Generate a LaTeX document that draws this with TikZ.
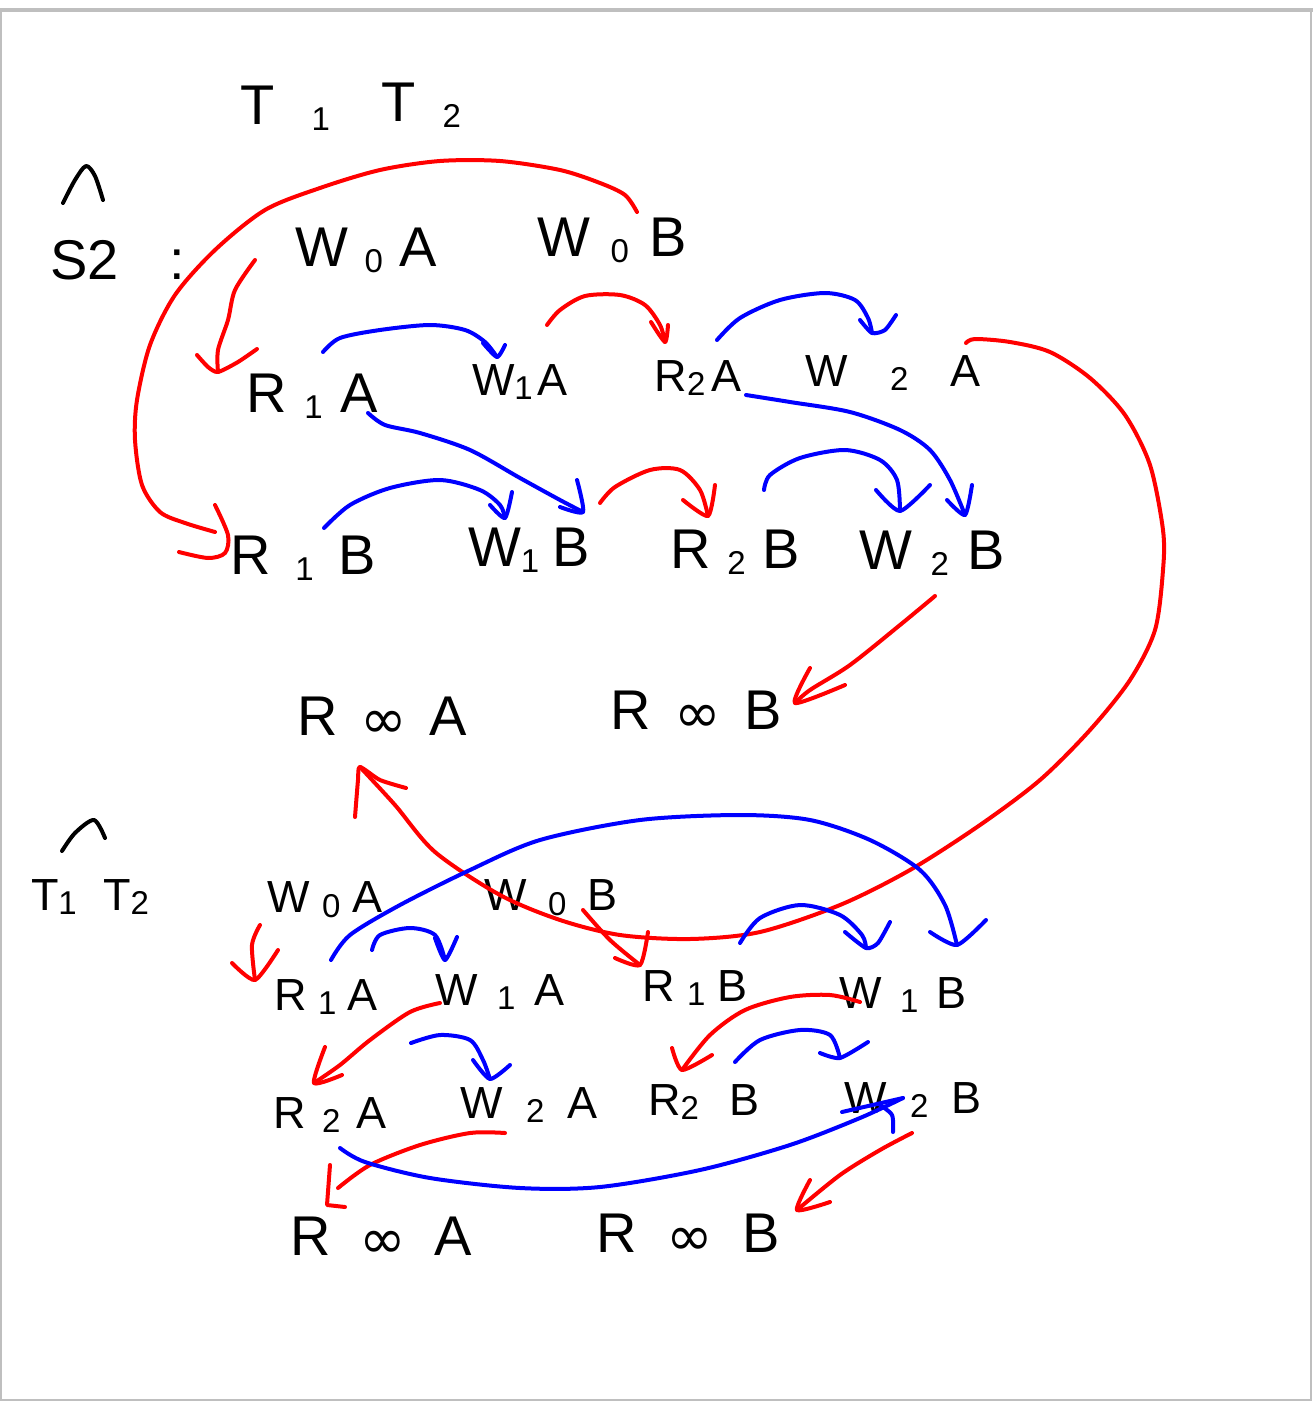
\documentclass[tikz,border=0pt]{standalone}
\usepackage{fontspec}
\setmainfont{Liberation Sans}
\newcommand\lowidx[1]{\raisebox{-0.2ex}{\fontsize{33}{33}\selectfont #1}}
\newfontfamily\symfont{DejaVu Sans}
\newcommand\infsign{\raisebox{-0.1ex}{\fontsize{56}{56}\selectfont\symfont ∞}}
\definecolor{inkred}{RGB}{255,0,0}
\definecolor{inkblue}{RGB}{0,0,255}
\tikzset{
  hand/.style={line width=4pt,line cap=round,line join=round},
  lbig/.style={inner sep=0,font=\fontsize{56}{56}\selectfont,text=black},
  lsmall/.style={inner sep=0,font=\fontsize{45}{45}\selectfont,text=black}
}
% name, colour, start, middle points, end, barb points before end, barb points after end
\newcommand\inkarrow[7]{%
  \coordinate (#1s) at #3;
  \coordinate (#1e) at #5;
  \draw[hand,#2] plot[smooth] coordinates {(#1s) #4 (#1e)};
  \draw[hand,#2] plot[smooth,tension=0.4] coordinates {#6 (#1e) #7};
}
\newcommand\wlabel[5]{\node[#1] (#2) at #3 {\makebox[#4pt][s]{#5}};}
\begin{document}
\begin{tikzpicture}[x=1pt,y=-1pt]
\useasboundingbox (0,0) rectangle (1313,1402);
\fill[white] (0,0) rectangle (1313,1402);
\draw[black!25,line width=2pt] (1,10) -- (1,1400) -- (1311,1400) -- (1311,10);
\draw[black!25,line width=4pt] (0,10) -- (1313,10);

% labels, top
\wlabel{lbig}{ta}{(285,108)}{90}{T\hfil\lowidx{1}}
\wlabel{lbig}{tb}{(421,105)}{80}{T\hfil\lowidx{2}}
\wlabel{lbig}{sa}{(118,260)}{135}{S2\hfil:}
\wlabel{lbig}{awa}{(366,250)}{142}{W\hfil\lowidx{0}\hfil A}
\wlabel{lbig}{awb}{(612,240)}{150}{W\hfil\lowidx{0}\hfil B}
\wlabel{lbig}{ara}{(312,396)}{132}{R\hfil\lowidx{1}\hfil A}
\wlabel{lsmall}{awc}{(520,382)}{96}{W\lowidx{1}\hfil A}
\wlabel{lsmall}{arb}{(698,378)}{87}{R\lowidx{2}\hfil A}
\wlabel{lsmall}{awd}{(893,373)}{176}{W\hfil\lowidx{2}\hfil A}
\wlabel{lbig}{arc}{(303,558)}{146}{R\hfil\lowidx{1}\hfil B}
\wlabel{lbig}{awe}{(529,550)}{122}{W\lowidx{1}\hfil B}
\wlabel{lbig}{ard}{(735,552)}{130}{R\hfil\lowidx{2}\hfil B}
\wlabel{lbig}{awf}{(932,553)}{145}{W\hfil\lowidx{2}\hfil B}
\wlabel{lbig}{ari}{(382,718)}{170}{R\hfil\infsign\hfil A}
\wlabel{lbig}{arj}{(696,712)}{172}{R\hfil\infsign\hfil B}

% labels, bottom
\wlabel{lsmall}{tt}{(90,897)}{118}{T\lowidx{1}\hfil T\lowidx{2}}
\wlabel{lsmall}{bwa}{(325,900)}{116}{W\hfil\lowidx{0}\hfil A}
\wlabel{lsmall}{bwb}{(551,898)}{133}{W\hfil\lowidx{0}\hfil B}
\wlabel{lsmall}{bra}{(326,997)}{103}{R\hfil\lowidx{1}\hfil A}
\wlabel{lsmall}{bwc}{(500,992)}{130}{W\hfil\lowidx{1}\hfil A}
\wlabel{lsmall}{brb}{(695,988)}{106}{R\hfil\lowidx{1}\hfil B}
\wlabel{lsmall}{bwd}{(903,995)}{127}{W\hfil\lowidx{1}\hfil B}
\wlabel{lsmall}{brc}{(330,1115)}{114}{R\hfil\lowidx{2}\hfil A}
\wlabel{lsmall}{bwe}{(529,1105)}{138}{W\hfil\lowidx{2}\hfil A}
\wlabel{lsmall}{brd}{(704,1102)}{112}{R\lowidx{2}\hfil B}
\wlabel{lsmall}{bwf}{(913,1100)}{137}{W\hfil\lowidx{2}\hfil B}
\wlabel{lbig}{bri}{(381,1238)}{182}{R\hfil\infsign\hfil A}
\wlabel{lbig}{brj}{(688,1235)}{183}{R\hfil\infsign\hfil B}

% hats
\coordinate (hatas) at (63,203);
\coordinate (hatae) at (103,200);
\draw[hand,black] plot[smooth] coordinates {(hatas) (75,180) (86,166) (95,176) (hatae)};
\coordinate (hatbs) at (62,851);
\coordinate (hatbe) at (105,838);
\draw[hand,black] plot[smooth] coordinates {(hatbs) (75,833) (94,820) (hatbe)};

% top connectors
\inkarrow{a}{inkred}{(637,212)}{(625,195) (600,183) (560,170) (500,161) (440,161) (380,170) (320,188) (265,210) (215,250) (175,295) (150,345) (137,400) (135,440) (142,485) (160,512) (185,523)}{(215,532)}{}{}
\coordinate (ab) at (215,505);
\coordinate (abe) at (179,552);
\draw[hand,inkred] plot[smooth,tension=0.5] coordinates {(ab) (228,535) (225,553) (208,558) (abe)};
\inkarrow{b}{inkred}{(255,260)}{(235,290) (228,320) (218,350)}{(218,372)}{(197,355) (208,367)}{(238,362) (257,349)}
\inkarrow{c}{inkblue}{(323,352)}{(340,338) (380,330) (430,325) (465,330) (485,342)}{(497,357)}{(483,343)}{(505,345)}
\inkarrow{d}{inkred}{(547,325)}{(560,310) (585,296) (620,295) (645,305) (660,325)}{(665,342)}{(651,322)}{(668,325)}
\inkarrow{e}{inkblue}{(717,340)}{(740,318) (780,300) (825,293) (855,300) (868,318)}{(872,333)}{(860,320)}{(885,330) (896,315)}
\inkarrow{f}{inkred}{(966,343)}{(975,339) (1010,342) (1050,352) (1090,378) (1125,415) (1150,465) (1163,530) (1163,570) (1155,630) (1130,680) (1090,730) (1040,780) (980,825) (910,870) (840,905) (760,932) (690,939) (620,935) (560,920) (500,895) (435,852) (395,805)}{(360,767)}{(355,817) (358,780)}{(380,780) (406,788)}
\inkarrow{g}{inkblue}{(368,413)}{(385,425) (420,433) (470,450) (520,478) (560,500)}{(583,512)}{(577,480)}{(560,507)}
\inkarrow{h}{inkblue}{(746,395)}{(790,402) (850,412) (900,430) (930,450) (950,480)}{(965,515)}{(972,485)}{(947,500)}
\inkarrow{i}{inkblue}{(324,528)}{(350,505) (390,488) (440,480) (480,490) (500,505)}{(505,518)}{(512,492)}{(490,505)}
\inkarrow{j}{inkred}{(600,503)}{(615,487) (650,470) (680,470) (700,490)}{(708,516)}{(683,500)}{(715,485)}
\inkarrow{k}{inkblue}{(764,490)}{(770,475) (800,458) (845,450) (880,460) (897,480)}{(900,511)}{(876,490)}{(930,485)}
\inkarrow{l}{inkred}{(935,596)}{(900,625) (850,665) (810,690)}{(795,703)}{(810,668)}{(845,685)}

% bottom connectors
\inkarrow{m}{inkred}{(260,925)}{(252,945)}{(255,980)}{(232,963)}{(278,950)}
\inkarrow{n}{inkblue}{(331,960)}{(350,935) (400,905) (470,870) (540,840) (640,820) (740,815) (810,820) (870,840) (920,870) (945,905)}{(957,945)}{(930,932)}{(986,920)}
\inkarrow{o}{inkblue}{(372,950)}{(380,935) (410,928) (435,935)}{(445,960)}{(435,938)}{(457,937)}
\inkarrow{p}{inkred}{(583,910)}{(610,940)}{(640,965)}{(615,958)}{(648,932)}
\inkarrow{q}{inkblue}{(740,943)}{(760,918) (800,905) (840,915) (862,935)}{(866,948)}{(845,932)}{(878,943) (890,922)}
\inkarrow{r}{inkred}{(860,1002)}{(830,995) (790,997) (745,1010) (710,1035)}{(682,1070)}{(672,1048)}{(712,1055)}
\inkarrow{s}{inkblue}{(735,1062)}{(760,1040) (800,1030) (830,1035)}{(840,1058)}{(820,1053)}{(868,1042)}
\inkarrow{t}{inkred}{(440,1003)}{(410,1012) (370,1040) (340,1065)}{(314,1083)}{(325,1047)}{(342,1075)}
\inkarrow{u}{inkblue}{(411,1043)}{(440,1035) (470,1040) (483,1060)}{(490,1079)}{(473,1060)}{(510,1065)}
\inkarrow{v}{inkred}{(505,1133)}{(470,1133) (420,1145) (370,1165)}{(338,1188)}{}{}
\coordinate (vb) at (330,1165);
\coordinate (vbe) at (345,1207);
\draw[hand,inkred] (vb) -- (327,1205) -- (vbe);
\inkarrow{w}{inkblue}{(340,1148)}{(365,1162) (430,1178) (520,1188) (600,1187) (700,1170) (790,1145) (860,1118)}{(903,1098)}{(842,1112)}{}
\coordinate (wb) at (880,1105);
\coordinate (wbe) at (893,1132);
\draw[hand,inkblue] plot[smooth] coordinates {(wb) (892,1115) (wbe)};
\inkarrow{x}{inkred}{(912,1133)}{(880,1150) (840,1175)}{(797,1210)}{(810,1180)}{(830,1202)}
\end{tikzpicture}
\end{document}
